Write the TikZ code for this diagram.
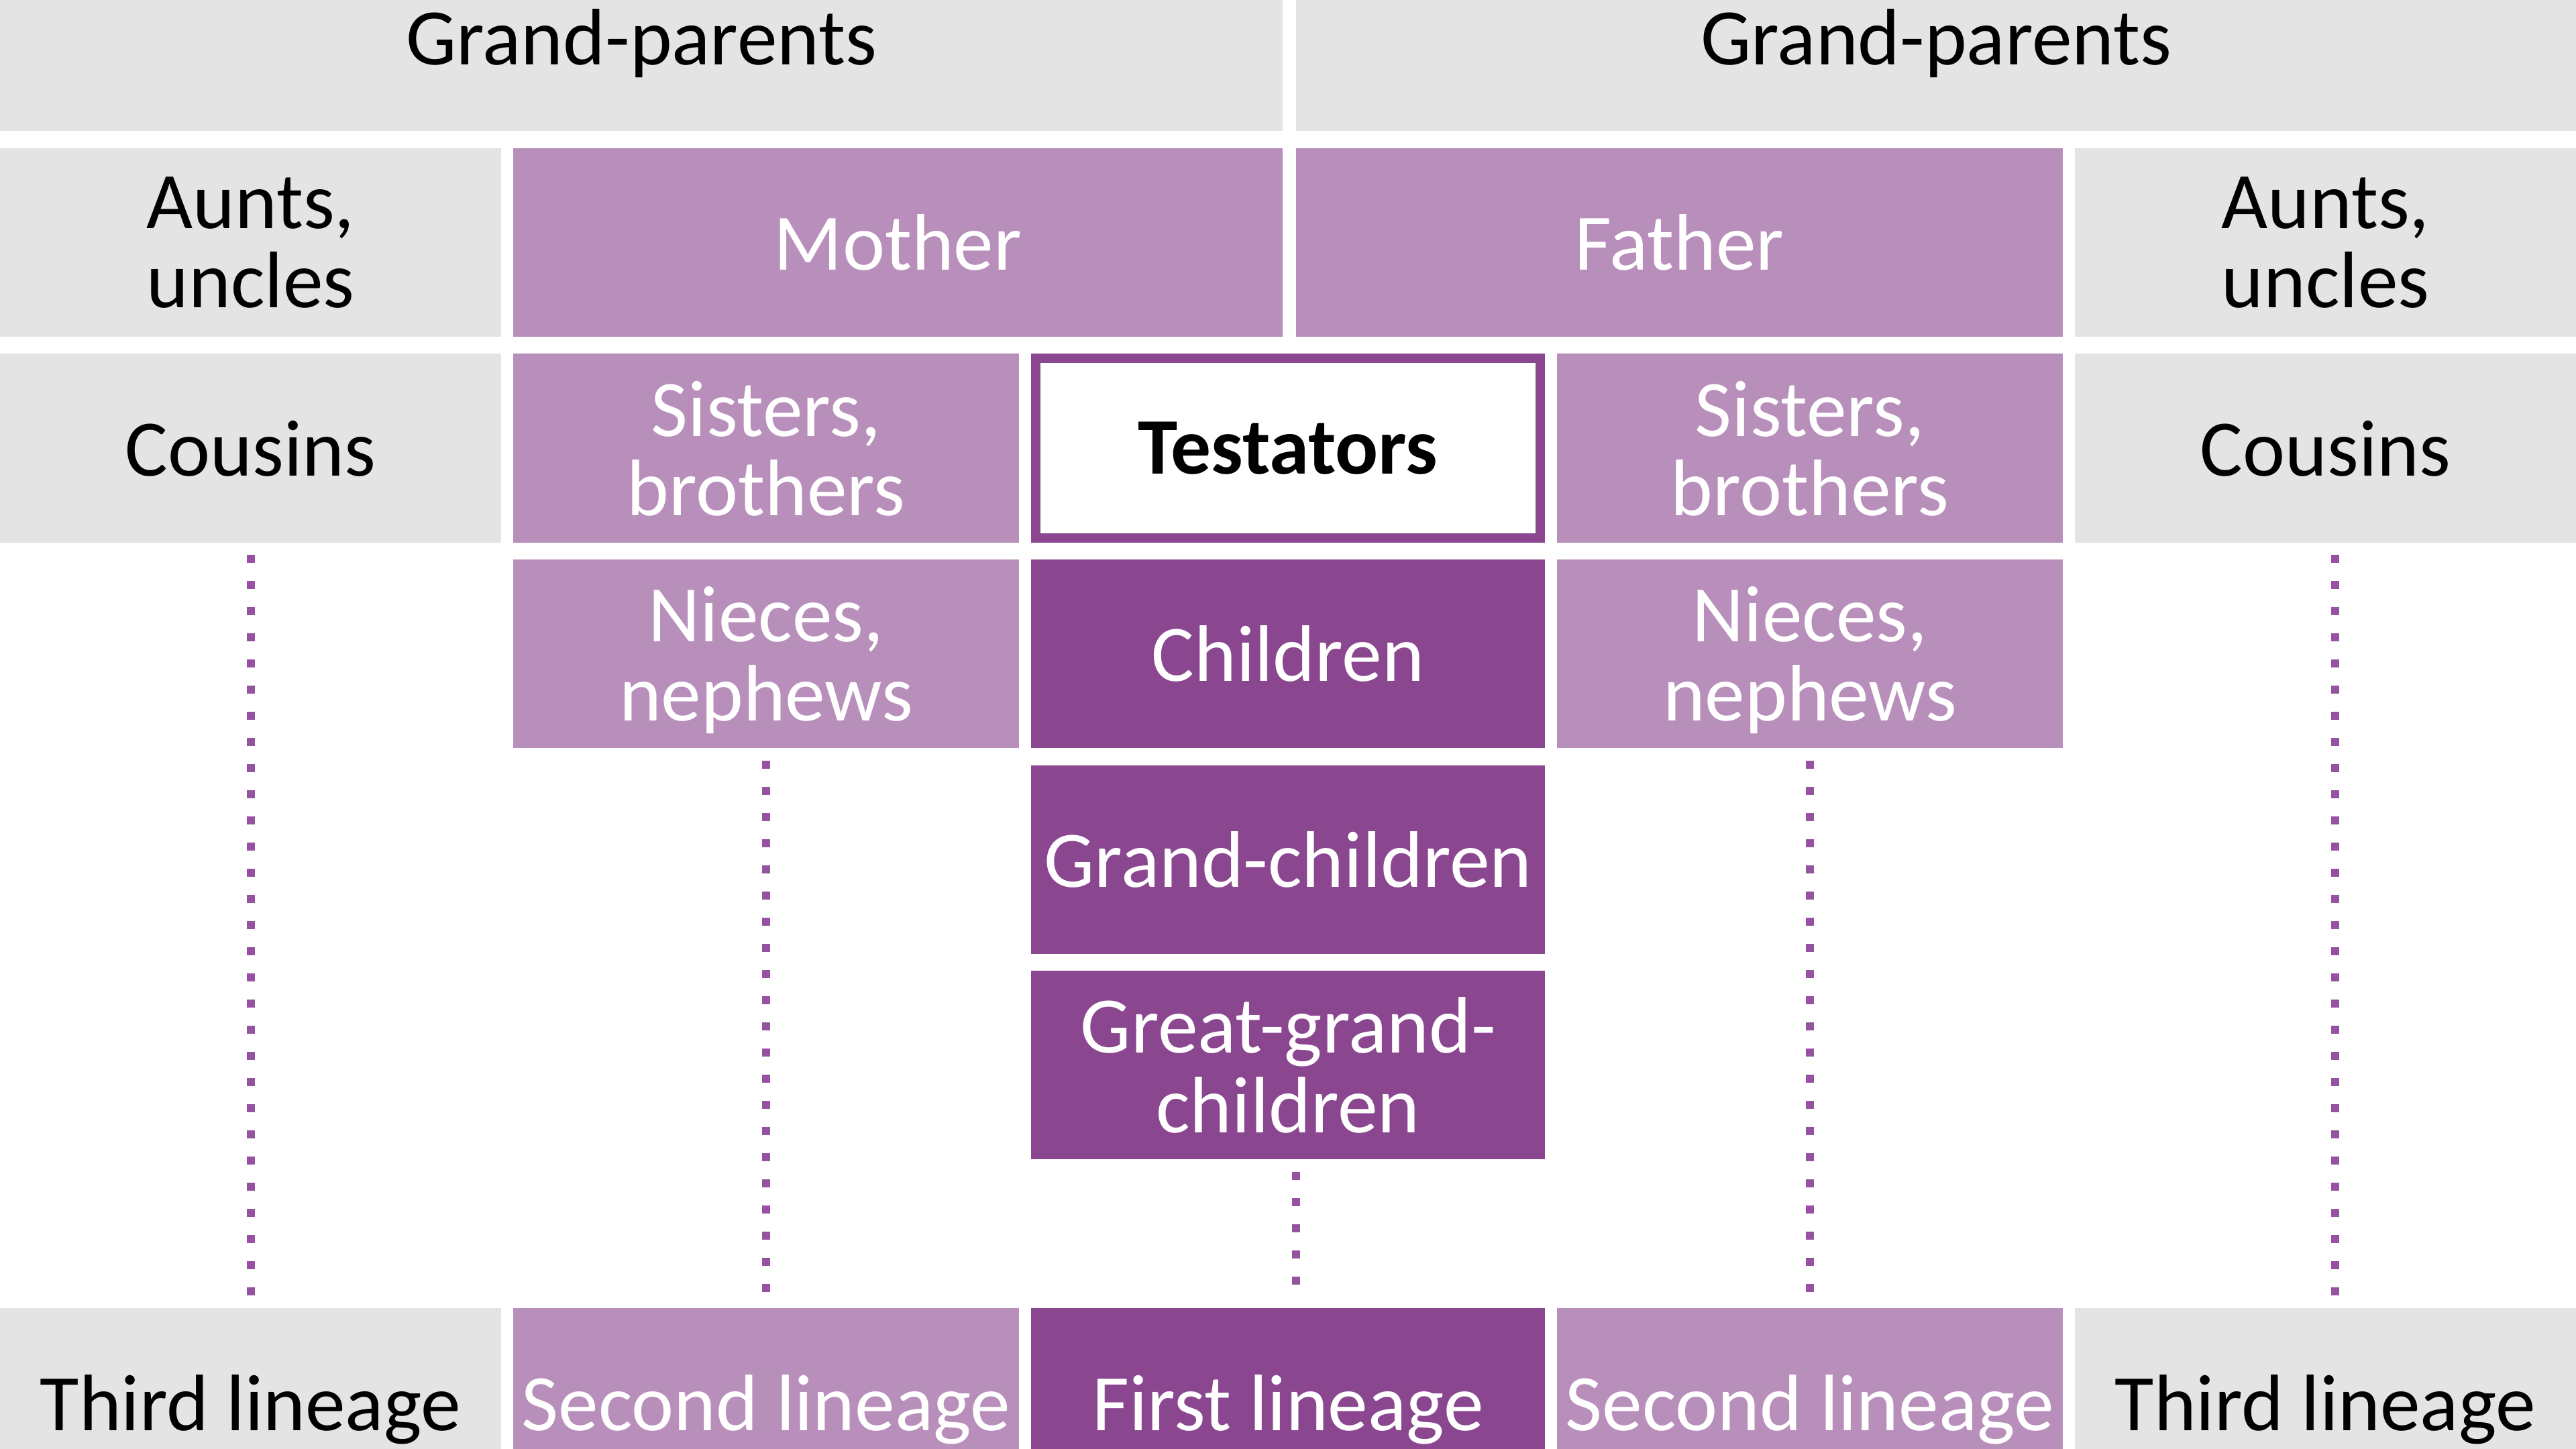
\documentclass[tikz,border=0pt]{standalone}
\usepackage{fontspec}
\setmainfont{Carlito}
\usepackage{tikz}
\usetikzlibrary{positioning}

\definecolor{cellgrey}{HTML}{E4E4E4}
\definecolor{lightplum}{HTML}{B88EBB}
\definecolor{darkplum}{HTML}{8A4790}
\definecolor{dotplum}{HTML}{9552A0}
\newcommand{\cellfont}{\fontsize{34}{33.6}\selectfont}

\begin{document}
\begin{tikzpicture}[
 base_cell/.style={rectangle, inner sep=0pt, minimum height=2.81cm, align=center, font=\cellfont, text depth=0pt},
 grey_cell/.style={base_cell, fill=cellgrey, text=black, minimum width=#1},
 light_cell/.style={base_cell, fill=lightplum, text=white, minimum width=#1},
 dark_cell/.style={base_cell, fill=darkplum, text=white, minimum width=#1},
 self_cell/.style={base_cell, fill=white, draw=darkplum, line width=0.14cm, minimum width=7.52cm, minimum height=2.67cm, font=\cellfont\bfseries},
 dot_line/.style={draw=dotplum, line width=0.12cm, dash pattern=on 0.12cm off 0.27cm, shorten <=0.18cm, shorten >=0.18cm}]

\useasboundingbox (0,0) rectangle (38.4,-21.6);
\clip (0,0) rectangle (38.4,-21.6);

% grand-parents
\node[grey_cell=19.12cm] (gp_l) at (9.56, -0.55) {Grand-parents};
\node[grey_cell=19.08cm] (gp_r) at (28.86, -0.55) {Grand-parents};

% parents
\node[grey_cell=7.47cm] (au_l) at (3.735, -3.615) {Aunts,\\uncles};
\node[light_cell=11.47cm] (mo) at (13.385, -3.615) {Mother};
\node[light_cell=11.43cm] (fa) at (25.035, -3.615) {Father};
\node[grey_cell=7.47cm] (au_r) at (34.665, -3.615) {Aunts,\\uncles};

% testators row
\node[grey_cell=7.47cm] (co_l) at (3.735, -6.68) {Cousins};
\node[light_cell=7.54cm] (si_l) at (11.42, -6.68) {Sisters,\\brothers};
\node[self_cell] (te) at (19.20, -6.68) {Testators};
\node[light_cell=7.54cm] (si_r) at (26.98, -6.68) {Sisters,\\brothers};
\node[grey_cell=7.47cm] (co_r) at (34.665, -6.68) {Cousins};

% descendants
\node[light_cell=7.54cm] (ni_l) at (11.42, -9.745) {Nieces,\\nephews};
\node[dark_cell=7.66cm] (ch) at (19.20, -9.745) {Children};
\node[light_cell=7.54cm] (ni_r) at (26.98, -9.745) {Nieces,\\nephews};
\node[dark_cell=7.66cm] (gc) at (19.20, -12.81) {Grand-children};
\node[dark_cell=7.66cm] (ggc) at (19.20, -15.875) {Great-grand-\\children};

% lineages
\node[grey_cell=7.47cm] (l3_l) at (3.735, -20.905) {Third lineage};
\node[light_cell=7.54cm] (l2_l) at (11.42, -20.905) {Second lineage};
\node[dark_cell=7.66cm] (l1) at (19.20, -20.905) {First lineage};
\node[light_cell=7.54cm] (l2_r) at (26.98, -20.905) {Second lineage};
\node[grey_cell=7.47cm] (l3_r) at (34.665, -20.905) {Third lineage};

\path[dot_line]
\foreach \i/\j/\s in {co_l/l3_l/0, ni_l/l2_l/0, ggc/l1/0.12, ni_r/l2_r/0, co_r/l3_r/0.14}{([xshift=\s cm]\i.south) edge ([xshift=\s cm]\j.north) };

\end{tikzpicture}
\end{document}
